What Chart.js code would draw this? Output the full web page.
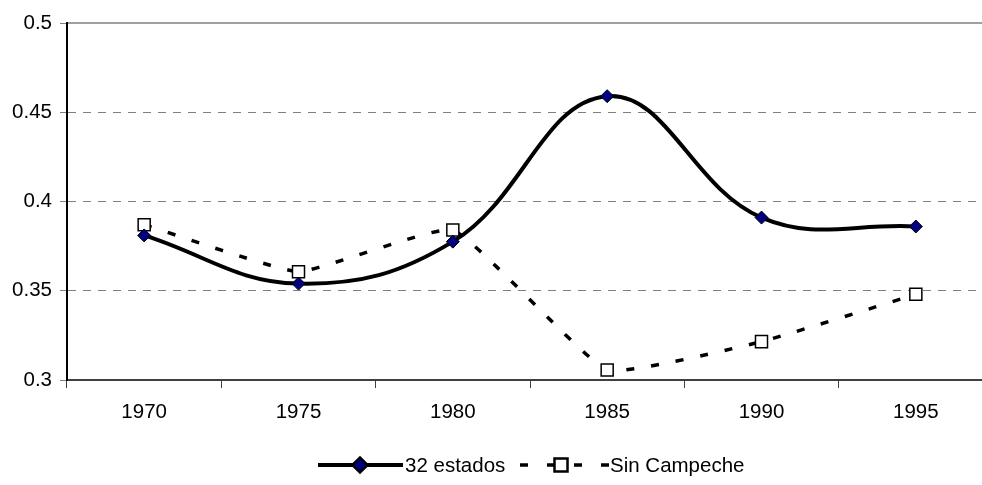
<!DOCTYPE html>
<html>
<head>
<meta charset="utf-8">
<script src="https://cdn.jsdelivr.net/npm/chart.js@4/dist/chart.umd.min.js"></script>
<style>
  html, body { margin: 0; padding: 0; background: #fff; overflow: hidden; width: 982px; height: 485px; }
  #wrap { width: 1003px; height: 485px; }
</style>
</head>
<body>
<div id="wrap"><canvas id="c" width="1003" height="485"></canvas></div>
<script>
const years = ['1970', '1975', '1980', '1985', '1990', '1995'];
const estados32 = [0.381, 0.354, 0.3775, 0.459, 0.391, 0.386];
const sinCampeche = [0.387, 0.3607, 0.384, 0.3056, 0.3215, 0.348];
const yTickLabels = ['0.3', '0.35', '0.4', '0.45', '0.5'];
const seriesNames = ['32 estados', 'Sin Campeche'];

const FONT = 'Liberation Sans, Arial, sans-serif';
const FS = 20.5;

const legendPlugin = {
  id: 'excelLegend',
  afterDraw(chart) {
    const ctx = chart.ctx;
    const y = 465;
    ctx.save();
    ctx.font = FS + 'px ' + FONT;
    ctx.textBaseline = 'middle';
    ctx.fillStyle = '#000';
    // entry 1
    const d0 = chart.data.datasets[0];
    ctx.strokeStyle = d0.borderColor;
    ctx.lineWidth = d0.borderWidth;
    ctx.setLineDash([]);
    ctx.beginPath(); ctx.moveTo(318, y); ctx.lineTo(403, y); ctx.stroke();
    ctx.beginPath();
    Chart.helpers.drawPoint(ctx, {pointStyle: 'rectRot', radius: d0.pointRadius, borderWidth: 1}, 360, y);
    ctx.fillStyle = d0.pointBackgroundColor; ctx.fill();
    ctx.strokeStyle = '#000'; ctx.lineWidth = 1; ctx.stroke();
    ctx.fillStyle = '#000';
    ctx.textAlign = 'left';
    ctx.fillText(seriesNames[0], 405, y + 1);
    // entry 2
    const d1 = chart.data.datasets[1];
    ctx.strokeStyle = d1.borderColor;
    ctx.lineWidth = d1.borderWidth;
    ctx.setLineDash([8, 19]);
    ctx.lineDashOffset = 0;
    ctx.beginPath(); ctx.moveTo(520, y); ctx.lineTo(609, y); ctx.stroke();
    ctx.setLineDash([]);
    ctx.beginPath();
    Chart.helpers.drawPoint(ctx, {pointStyle: 'rect', radius: d1.pointRadius, borderWidth: d1.pointBorderWidth}, 561, y);
    ctx.fillStyle = '#fff'; ctx.fill();
    ctx.strokeStyle = '#000'; ctx.lineWidth = d1.pointBorderWidth; ctx.stroke();
    ctx.fillStyle = '#000';
    ctx.fillText(seriesNames[1], 610, y + 1);
    ctx.restore();
  }
};

new Chart(document.getElementById('c'), {
  type: 'line',
  data: {
    labels: years,
    datasets: [
      {
        label: seriesNames[0],
        data: estados32,
        borderColor: '#000',
        borderWidth: 4,
        tension: 0.4,
        pointStyle: 'rectRot',
        pointRadius: 6.5,
        pointBackgroundColor: '#000080',
        pointBorderColor: '#000',
        pointBorderWidth: 1,
        fill: false
      },
      {
        label: seriesNames[1],
        data: sinCampeche,
        borderColor: '#000',
        borderWidth: 3.5,
        borderDash: [8, 17],
        tension: 0.12,
        pointStyle: 'rect',
        pointRadius: 8.5,
        pointBackgroundColor: '#fff',
        pointBorderColor: '#000',
        pointBorderWidth: 1.5,
        fill: false
      }
    ]
  },
  options: {
    responsive: false,
    animation: false,
    events: [],
    layout: { padding: { top: 23, left: 0, right: 0, bottom: 0 } },
    plugins: { legend: { display: false }, tooltip: { enabled: false } },
    scales: {
      x: {
        type: 'category',
        position: 'bottom',
        offset: true,
        grid: { display: true, offset: true, drawOnChartArea: false, drawTicks: true, tickLength: 8, color: '#404040', lineWidth: 1 },
        border: { display: true, color: '#404040', width: 2 },
        ticks: { color: '#000', font: { family: FONT, size: FS }, padding: 12, maxRotation: 0 },
        afterFit: (s) => { s.height = 105; }
      },
      x2: {
        type: 'category',
        position: 'top',
        labels: years,
        grid: { display: false },
        ticks: { display: false },
        border: { display: true, color: '#a0a0a0', width: 2 },
        afterFit: (s) => { s.height = 0; }
      },
      y: {
        min: 0.3,
        max: 0.5,
        ticks: {
          stepSize: 0.05,
          color: '#000',
          font: { family: FONT, size: FS },
          padding: 8,
          callback: (v, i) => yTickLabels[i]
        },
        grid: { color: '#808080', lineWidth: 1, tickLength: 7, drawTicks: true },
        border: { display: true, color: '#000', width: 2, dash: [8, 7] },
        afterFit: (s) => { s.width = 67; }
      }
    }
  },
  plugins: [legendPlugin]
});
</script>
</body>
</html>
